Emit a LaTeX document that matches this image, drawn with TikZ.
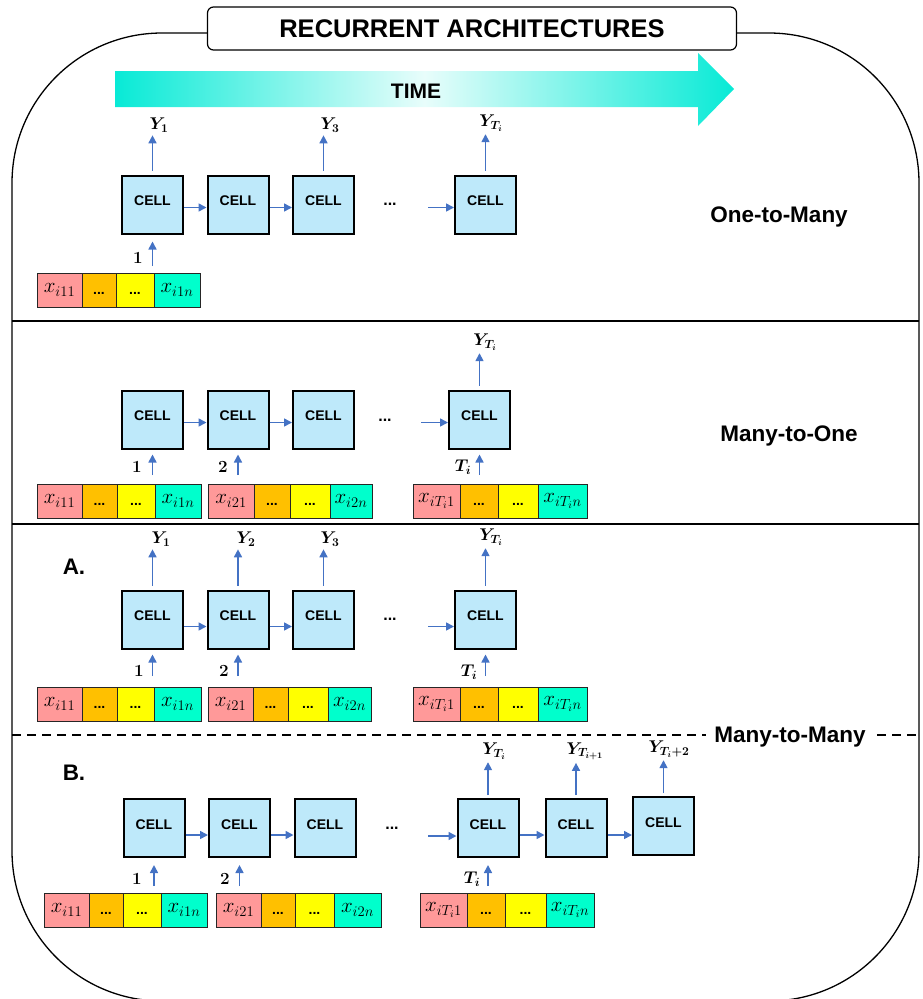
\RequirePackage{fix-cm}
\documentclass[tikz,border=0pt]{standalone}
\usepackage{fontspec}
\setsansfont{Liberation Sans}
\usepackage{bm}
\usetikzlibrary{arrows.meta,calc}
\definecolor{cellblue}{HTML}{BEE9FA}
\definecolor{arrowblue}{HTML}{4472C4}
\definecolor{segpink}{HTML}{FF9999}
\definecolor{segorange}{HTML}{FFC000}
\definecolor{segyellow}{HTML}{FFFF00}
\definecolor{segcyan}{HTML}{00FFCC}
\definecolor{timecyan}{RGB}{8,234,214}
\definecolor{timemid}{RGB}{232,253,251}
\tikzset{
  cellbox/.style={draw=black,line width=2pt,fill=cellblue,minimum width=61pt,minimum height=58pt,inner sep=0pt,text height=10pt,text depth=8pt,font=\sffamily\bfseries\fontsize{14}{14}\selectfont},
  flow/.style={draw=arrowblue,line width=1.6pt,-{Triangle[length=8pt,width=8pt]}},
  seg/.style={draw=black!85,line width=0.9pt,minimum height=34pt,inner sep=0pt,outer sep=0pt,anchor=north west,font=\fontsize{21}{21}\selectfont},
  ylab/.style={font=\fontsize{17}{17}\selectfont,inner sep=1pt},
  inlab/.style={font=\fontsize{17}{17}\selectfont,inner sep=1pt},
  seclab/.style={font=\sffamily\bfseries\fontsize{22.5}{22.5}\selectfont,inner sep=1pt},
  dotlab/.style={font=\sffamily\bfseries\fontsize{16}{16}\selectfont,inner sep=1pt},
}
\newcommand\dotsx{\sffamily\bfseries\fontsize{14}{14}\selectfont\vphantom{A}...}
\newcommand\xbar[9]{%
  \node[seg,fill=segpink,minimum width=#4pt] (#1a) at (#2,#3) {$x_{#8}$};
  \node[seg,fill=segorange,minimum width=#5pt] (#1b) at (#1a.north east) {\dotsx};
  \node[seg,fill=segyellow,minimum width=#6pt] (#1c) at (#1b.north east) {\dotsx};
  \node[seg,fill=segcyan,minimum width=#7pt] (#1d) at (#1c.north east) {$x_{#9}$};
}
\begin{document}
\begin{tikzpicture}[x=1pt,y=-1pt]
\useasboundingbox (0,0) rectangle (923,999);
% outer frame
\draw[line width=1.3pt,rounded corners=150pt] (12,33) rectangle (919,1001);
% title
\node[draw=black,line width=1.2pt,fill=white,rounded corners=6pt,minimum width=529pt,minimum height=43pt,inner sep=0pt,font=\sffamily\bfseries\fontsize{25.5}{25.5}\selectfont] (title) at (472,28.5) {RECURRENT ARCHITECTURES};
% time arrow
\shade[left color=timecyan,right color=timecyan,middle color=timemid] (115,71) -- (698,71) -- (698,53) -- (734,89) -- (698,126) -- (698,107) -- (115,107) -- cycle;
\node[font=\sffamily\bfseries\fontsize{21}{21}\selectfont] (time) at (416,91) {TIME};
% dividers
\draw[line width=1.8pt] (12,321) -- (919,321);
\draw[line width=1.8pt] (12,524) -- (919,524);
\draw[line width=1.3pt,dash pattern=on 9pt off 6pt] (12,735) -- (706,735);
\draw[line width=1.3pt,dash pattern=on 9pt off 6pt] (877,735) -- (919,735);
% section labels
\node[seclab] (l1) at (779,217) {One-to-Many};
\node[seclab] (l2) at (789,436) {Many-to-One};
\node[seclab] (l3) at (790,737) {Many-to-Many};
\node[seclab] (lA) at (74,567) {A.};
\node[seclab] (lB) at (74,773) {B.};

% ===== Section 1: one-to-many =====
\node[cellbox] (a1) at (152.5,204.5) {CELL};
\node[cellbox] (a2) at (238,204.5) {CELL};
\node[cellbox] (a3) at (323.5,204.5) {CELL};
\node[dotlab] (adots) at (390,204) {...};
\node[cellbox] (a4) at (485.5,204.5) {CELL};
\coordinate (a4in) at (428,207.5);
\draw[flow] ([yshift=-3pt]a1.east) -- ([yshift=-3pt]a2.west);
\draw[flow] ([yshift=-3pt]a2.east) -- ([yshift=-3pt]a3.west);
\draw[flow] (a4in) -- (a4in -| a4.west);
\node[ylab] (ay1) at (159,125) {$\bm{Y_1}$};
\node[ylab] (ay3) at (330,125) {$\bm{Y_3}$};
\node[ylab] (ay4) at (491,123) {$\bm{Y_{T_i}}$};
\foreach \c/\l in {a1/ay1,a3/ay3,a4/ay4}
  \draw[flow,shorten >=2pt] ([yshift=4pt]\c.north) -- (\c.north |- \l.south);
\coordinate (a1src) at (152.5,266);
\draw[flow,shorten >=7pt] (a1src) -- (a1src |- a1.south);
\node[inlab] (ai1) at (138,258) {$\bm{1}$};
\xbar{abar}{37}{273}{45}{34}{38}{46}{i11}{i1n}

% ===== Section 2: many-to-one =====
\node[cellbox] (b1) at (152.5,419.5) {CELL};
\node[cellbox] (b2) at (238,419.5) {CELL};
\node[cellbox] (b3) at (323.5,419.5) {CELL};
\node[dotlab] (bdots) at (385,420) {...};
\node[cellbox] (b4) at (479.5,419.5) {CELL};
\coordinate (b4in) at (421,422.5);
\draw[flow] ([yshift=-3pt]b1.east) -- ([yshift=-3pt]b2.west);
\draw[flow] ([yshift=-3pt]b2.east) -- ([yshift=-3pt]b3.west);
\draw[flow] (b4in) -- (b4in -| b4.west);
\node[ylab] (by4) at (485,342) {$\bm{Y_{T_i}}$};
\draw[flow,shorten >=2pt] ([yshift=4pt]b4.north) -- (b4.north |- by4.south);
\coordinate (b1src) at (152.5,475);
\coordinate (b2src) at (238,475);
\coordinate (b4src) at (479.5,475);
\draw[flow,shorten >=5pt] (b1src) -- (b1src |- b1.south);
\draw[flow,shorten >=5pt] (b2src) -- (b2src |- b2.south);
\draw[flow,shorten >=5pt] (b4src) -- (b4src |- b4.south);
\node[inlab] (bi1) at (137,467) {$\bm{1}$};
\node[inlab] (bi2) at (223,467) {$\bm{2}$};
\node[inlab] (bi4) at (463,467) {$\bm{T_i}$};
\xbar{bbarA}{37}{484}{45}{35}{38}{46}{i11}{i1n}
\xbar{bbarB}{208}{484}{46}{36}{40}{42}{i21}{i2n}
\xbar{bbarC}{413}{484}{47}{38}{40}{49}{iT_i1}{iT_in}

% ===== Section 3: many-to-many A =====
\node[cellbox] (c1) at (152.5,619.5) {CELL};
\node[cellbox] (c2) at (238,619.5) {CELL};
\node[cellbox] (c3) at (323.5,619.5) {CELL};
\node[dotlab] (cdots) at (390,619) {...};
\node[cellbox] (c4) at (485.5,619.5) {CELL};
\coordinate (c4in) at (428,626.5);
\draw[flow] ([yshift=-7pt]c1.east) -- ([yshift=-7pt]c2.west);
\draw[flow] ([yshift=-7pt]c2.east) -- ([yshift=-7pt]c3.west);
\draw[flow] (c4in) -- (c4in -| c4.west);
\node[ylab] (cy1) at (161,539) {$\bm{Y_1}$};
\node[ylab] (cy2) at (246,539) {$\bm{Y_2}$};
\node[ylab] (cy3) at (330,539) {$\bm{Y_3}$};
\node[ylab] (cy4) at (491,537) {$\bm{Y_{T_i}}$};
\foreach \c/\l in {c1/cy1,c2/cy2,c3/cy3,c4/cy4}
  \draw[flow,shorten >=2pt] ([yshift=4pt]\c.north) -- (\c.north |- \l.south);
\coordinate (c1src) at (152.5,676);
\coordinate (c2src) at (238,676);
\coordinate (c4src) at (485.5,676);
\draw[flow,shorten >=5pt] (c1src) -- (c1src |- c1.south);
\draw[flow,shorten >=5pt] (c2src) -- (c2src |- c2.south);
\draw[flow,shorten >=5pt] (c4src) -- (c4src |- c4.south);
\node[inlab] (ci1) at (139,671) {$\bm{1}$};
\node[inlab] (ci2) at (224,671) {$\bm{2}$};
\node[inlab] (ci4) at (469,672) {$\bm{T_i}$};
\xbar{cbarA}{37}{687}{45}{35}{37}{47}{i11}{i1n}
\xbar{cbarB}{208}{687}{45}{35}{40}{43}{i21}{i2n}
\xbar{cbarC}{413}{687}{47}{38}{40}{49}{iT_i1}{iT_in}

% ===== Section 4: many-to-many B =====
\node[cellbox] (d1) at (154,828) {CELL};
\node[cellbox] (d2) at (239.5,828) {CELL};
\node[cellbox] (d3) at (325,828) {CELL};
\node[dotlab] (ddots) at (392,828) {...};
\node[cellbox] (d4) at (488,828) {CELL};
\node[cellbox] (d5) at (576,828) {CELL};
\node[cellbox] (d6) at (663.5,826) {CELL};
\coordinate (d4in) at (428,836);
\draw[flow] ([yshift=-7pt]d1.east) -- ([yshift=-7pt]d2.west);
\draw[flow] ([yshift=-7pt]d2.east) -- ([yshift=-7pt]d3.west);
\draw[flow] (d4in) -- (d4in -| d4.west);
\draw[flow] ([yshift=-7pt]d4.east) -- ([yshift=-7pt]d5.west);
\draw[flow] ([yshift=-7pt]d5.east) -- ([yshift=-7pt]d5.east -| d6.west);
\node[ylab] (dy4) at (494,751) {$\bm{Y_{T_i}}$};
\node[ylab] (dy5) at (585,751) {$\bm{Y_{T_{i+1}}}$};
\node[ylab] (dy6) at (669,749) {$\bm{Y_{T_i+2}}$};
\foreach \c/\l in {d4/dy4,d5/dy5,d6/dy6}
  \draw[flow,shorten >=2pt] ([yshift=3pt]\c.north) -- (\c.north |- \l.south);
\coordinate (d1src) at (154,886);
\coordinate (d2src) at (239.5,886);
\coordinate (d4src) at (488,886);
\draw[flow,shorten >=7pt] (d1src) -- (d1src |- d1.south);
\draw[flow,shorten >=7pt] (d2src) -- (d2src |- d2.south);
\draw[flow,shorten >=7pt] (d4src) -- (d4src |- d4.south);
\node[inlab] (di1) at (137,879) {$\bm{1}$};
\node[inlab] (di2) at (225,879) {$\bm{2}$};
\node[inlab] (di4) at (472,879) {$\bm{T_i}$};
\xbar{dbarA}{44}{893}{45}{34}{38}{46}{i11}{i1n}
\xbar{dbarB}{216}{893}{45}{34}{39}{47}{i21}{i2n}
\xbar{dbarC}{420}{893}{47}{38}{41}{48}{iT_i1}{iT_in}
\end{tikzpicture}
\end{document}
